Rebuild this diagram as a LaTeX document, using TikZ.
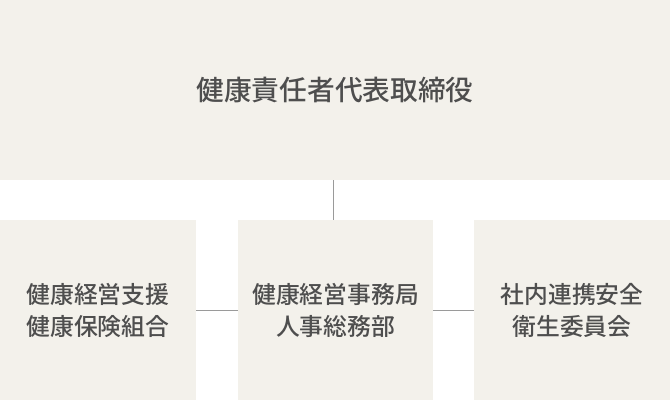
\documentclass[tikz,border=0pt]{standalone}
\usepackage{fontspec}
\newfontfamily\cjk{Noto Sans CJK JP Medium}
\definecolor{boxbg}{HTML}{F3F1EB}
\definecolor{txt}{HTML}{4E4E4E}
\definecolor{ln}{HTML}{9A9A9A}
\begin{document}
\begin{tikzpicture}[x=1pt,y=-1pt,
  orgbox/.style={fill=boxbg,draw=none,inner sep=0pt,text=txt,align=center},
  conn/.style={draw=ln,line width=1pt}]
\useasboundingbox (0,0) rectangle (670,400);
\fill[white] (0,0) rectangle (670,400);
\node[orgbox,minimum width=670pt,minimum height=180pt,font=\cjk\fontsize{27.7}{32}\selectfont] (top) at (335,90) {健康責任者代表取締役};
\node[orgbox,minimum width=196pt,minimum height=180pt,font=\cjk\fontsize{23.8}{32}\selectfont] (left) at (98,310) {健康経営支援\\健康保険組合};
\node[orgbox,minimum width=195pt,minimum height=180pt,font=\cjk\fontsize{23.8}{32}\selectfont] (mid) at (335.5,310) {健康経営事務局\\人事総務部};
\node[orgbox,minimum width=196pt,minimum height=180pt,font=\cjk\fontsize{23.8}{32}\selectfont] (right) at (572,310) {社内連携安全\\衛生委員会};
\draw[conn] (top.south -| 333,0) -- (mid.north -| 333,0);
\draw[conn] (left.east) -- (mid.west);
\draw[conn] (mid.east) -- (right.west);
\end{tikzpicture}
\end{document}
